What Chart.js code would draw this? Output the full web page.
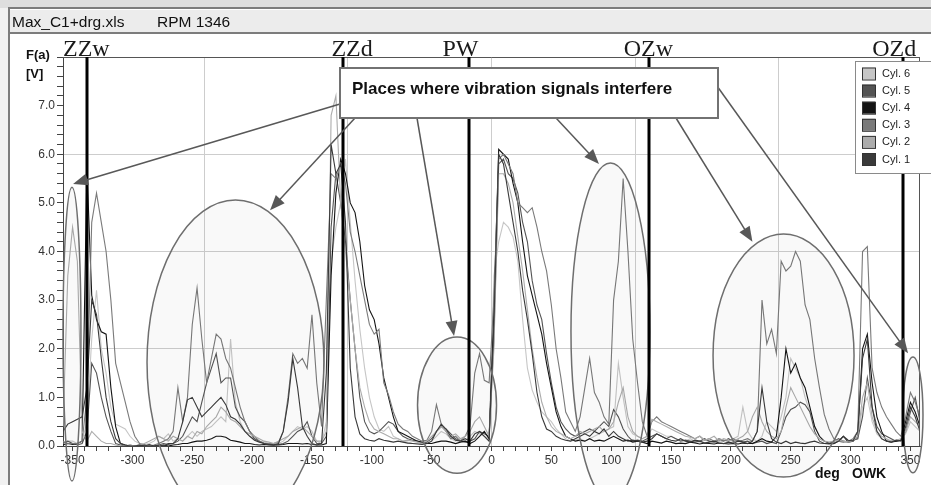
<!DOCTYPE html>
<html><head><meta charset="utf-8">
<script src="https://cdn.jsdelivr.net/npm/chart.js@4.4.1/dist/chart.umd.min.js"></script>
<style>html,body{margin:0;padding:0;background:#fff;overflow:hidden}canvas{display:block}</style>
</head><body>
<canvas id="c" width="931" height="485"></canvas>
<script>
// crank angle (deg OWK) for every sample
const angles = [
-358,-354,-350,-346,-342,-338,-334,-330,-326,-322,
-318,-314,-310,-306,-302,-298,-294,-290,-286,-282,
-278,-274,-270,-266,-262,-258,-254,-250,-246,-242,
-238,-234,-230,-226,-222,-218,-214,-210,-206,-202,
-198,-194,-190,-186,-182,-178,-174,-170,-166,-162,
-158,-154,-150,-146,-142,-138,-134,-130,-126,-122,
-118,-114,-110,-106,-102,-98,-94,-90,-86,-82,
-78,-74,-70,-66,-62,-58,-54,-50,-46,-42,
-38,-34,-30,-26,-22,-18,-14,-10,-6,-2,
2,6,10,14,18,22,26,30,34,38,
42,46,50,54,58,62,66,70,74,78,
82,86,90,94,98,102,106,110,114,118,
122,126,130,134,138,142,146,150,154,158,
162,166,170,174,178,182,186,190,194,198,
202,206,210,214,218,222,226,230,234,238,
242,246,250,254,258,262,266,270,274,278,
282,286,290,294,298,302,306,310,314,318,
322,326,330,334,338,342,346,350,354,358];

const cyl1 = [
0.3,0.45,0.5,0.55,0.6,1.2,3.0,2.7,1.8,1.0,
0.5,0.15,0.05,0.02,0,0,0.02,0,0.03,0,
0.02,0,0.05,0.05,0.15,0.5,0.95,1.0,0.8,0.6,
0.7,0.8,0.9,1.0,0.85,0.6,0.55,0.45,0.3,0.2,
0.12,0.08,0.05,0.03,0.02,0.05,0.3,0.9,1.8,1.2,
0.4,0.2,0.05,0.02,0.05,1.5,6.2,5.6,5.8,4.6,
1.6,0.6,0.25,0.15,0.12,0.1,0.15,0.12,0.1,0.08,
0.1,0.08,0.06,0.05,0.04,0.03,0.05,0.1,0.3,0.45,
0.35,0.2,0.12,0.1,0.15,0.1,0.25,0.3,0.2,0.1,
2.5,6.0,5.8,5.2,4.6,4.0,3.2,2.6,1.9,1.1,
0.6,0.35,0.3,0.2,0.15,0.12,0.1,0.15,0.2,0.25,
0.2,0.3,0.25,0.35,0.2,0.3,0.2,0.15,0.1,0.12,
0.1,0.08,0.1,0.15,0.25,0.2,0.15,0.12,0.1,0.15,
0.1,0.08,0.12,0.1,0.06,0.08,0.1,0.06,0.05,0.08,
0.06,0.1,0.08,0.05,0.1,0.3,1.2,0.5,0.15,0.08,
0.05,0.1,0.05,0.08,0.06,0.05,0.08,0.1,0.06,0.05,
0.04,0.05,0.1,0.2,0.12,0.1,0.3,1.8,2.2,0.8,
0.3,0.15,0.1,0.08,0.12,0.1,0.4,0.8,0.6,0.3];

const cyl2 = [
0.4,3.5,4.5,3.8,0.3,0.1,0.3,0.2,0.1,0.05,
0.05,0.02,0,0,0.02,0,0.03,0.05,0.1,0.15,
0.2,0.15,0.1,0.2,0.15,0.1,0.2,0.15,0.3,0.25,
0.4,0.5,0.6,0.8,0.7,0.55,0.5,0.4,0.3,0.25,
0.2,0.15,0.1,0.08,0.05,0.1,0.15,0.2,0.3,0.35,
0.4,0.3,0.2,0.1,0.1,0.3,6.8,7.2,5.0,4.0,
3.0,2.0,1.2,0.8,0.5,0.35,0.3,0.25,0.2,0.15,
0.15,0.1,0.12,0.1,0.08,0.05,0.1,0.2,0.3,0.4,
0.3,0.2,0.25,0.15,0.2,0.3,0.5,0.6,0.4,0.2,
2.0,5.6,5.6,5.4,5.0,4.3,3.6,2.8,2.0,1.4,
0.9,0.6,0.4,0.3,0.25,0.2,0.15,0.2,0.3,0.25,
0.3,0.35,0.4,0.3,0.35,0.5,0.9,1.2,0.6,0.3,
0.2,0.15,0.2,0.55,0.5,0.45,0.4,0.35,0.3,0.25,
0.2,0.18,0.15,0.2,0.12,0.15,0.2,0.1,0.15,0.12,
0.1,0.15,0.2,0.3,0.6,0.8,0.5,0.3,0.2,0.15,
0.3,0.8,1.2,1.0,0.8,0.6,0.4,0.25,0.15,0.1,
0.08,0.1,0.12,0.1,0.08,0.1,0.2,1.0,1.3,0.6,
0.3,0.2,0.15,0.1,0.12,0.15,0.3,0.6,0.5,0.4];

const cyl3 = [
0.1,0.05,0.05,0.05,0.1,1.0,4.6,5.2,4.6,4.0,
3.0,1.7,1.3,0.9,0.5,0.2,0.05,0.02,0,0.02,
0.05,0.1,0.15,0.3,1.2,0.5,1.0,2.5,3.25,2.2,
1.3,1.8,2.3,2.2,1.8,1.6,1.2,0.8,0.5,0.3,
0.2,0.1,0.05,0.05,0.05,0.08,0.3,1.0,1.9,1.7,
1.8,1.6,2.7,1.3,0.4,3.0,5.6,5.5,5.8,5.4,
4.4,4.0,3.5,3.0,2.5,2.3,2.4,1.3,1.05,0.7,
0.45,0.35,0.3,0.2,0.15,0.1,0.12,0.3,0.85,0.45,
0.3,0.15,0.2,0.1,0.2,0.4,1.5,1.9,1.35,1.3,
3.0,5.9,6.0,5.8,5.6,5.0,4.9,4.8,4.9,4.5,
4.0,3.6,2.9,2.0,1.4,0.7,0.5,0.3,0.6,1.2,
1.8,1.1,0.9,0.6,0.45,3.0,3.8,5.5,4.0,2.2,
1.3,0.5,0.2,0.5,0.6,0.5,0.45,0.4,0.35,0.3,
0.25,0.2,0.15,0.2,0.12,0.15,0.1,0.15,0.12,0.1,
0.15,0.1,0.12,0.15,0.1,0.3,3.0,2.1,2.4,1.9,
3.8,3.6,3.7,4.0,3.8,2.9,2.6,1.8,1.2,0.65,
0.35,0.15,0.1,0.08,0.1,0.15,0.3,4.0,4.1,1.6,
1.1,0.8,0.6,0.45,0.3,0.2,0.6,1.1,0.9,0.6];

const cyl4 = [
0.02,0.05,0.03,0.05,0.1,5.7,3.1,2.6,2.35,2.3,
1.2,0.4,0.05,0.02,0,0,0,0.02,0,0,
0,0.02,0,0.02,0.03,0.05,0.05,0.08,0.1,0.1,
0.12,0.15,0.2,0.2,0.18,0.12,0.1,0.08,0.05,0.05,
0.03,0.02,0.03,0.02,0.02,0.02,0.03,0.05,0.05,0.05,
0.04,0.05,0.03,0.02,0.02,0.05,3.5,5.2,5.9,5.6,
5.0,4.8,4.2,3.3,2.8,2.6,2.1,1.4,1.0,0.6,
0.3,0.25,0.2,0.15,0.1,0.08,0.05,0.05,0.08,0.1,
0.1,0.08,0.05,0.08,0.1,0.05,0.1,0.2,0.3,0.15,
2.8,6.1,6.0,5.9,5.4,5.0,4.2,3.5,3.1,2.7,
2.3,1.7,1.2,0.7,0.4,0.2,0.15,0.1,0.12,0.1,
0.15,0.1,0.12,0.1,0.15,0.2,0.15,0.1,0.12,0.08,
0.1,0.08,0.05,0.1,0.08,0.06,0.1,0.08,0.05,0.06,
0.05,0.08,0.06,0.04,0.06,0.05,0.04,0.06,0.05,0.04,
0.05,0.04,0.06,0.05,0.05,0.1,0.15,0.1,0.08,0.2,
1.0,2.0,1.5,1.7,1.4,1.2,0.8,0.4,0.2,0.1,
0.06,0.05,0.1,0.2,0.08,0.1,0.2,2.0,2.3,1.3,
0.6,0.3,0.1,0.08,0.1,0.12,0.5,0.9,0.7,0.4];

const cyl5 = [
0.05,0.1,0.05,0.02,0.05,0.3,1.7,1.5,1.0,0.6,
0.3,0.05,0.02,0,0.02,0,0.02,0,0.02,0,
0.02,0.05,0.03,0.05,0.1,0.2,0.4,0.6,0.5,0.9,
1.3,1.6,1.9,1.3,1.4,1.4,0.8,0.6,0.5,0.3,
0.15,0.1,0.05,0.03,0.02,0.03,0.05,0.1,0.2,0.3,
0.35,0.5,0.2,0.05,0.05,0.2,4.5,5.6,5.0,4.2,
3.0,2.0,1.0,0.5,0.3,0.25,0.3,0.4,0.5,0.45,
0.3,0.2,0.15,0.12,0.1,0.05,0.08,0.15,0.3,0.4,
0.35,0.25,0.15,0.1,0.08,0.1,0.15,0.3,0.25,0.2,
2.2,5.8,5.9,5.6,5.5,5.2,4.6,4.2,3.4,2.9,
2.6,1.9,1.3,0.8,0.5,0.35,0.25,0.2,0.25,0.3,
0.35,0.3,0.4,0.5,0.4,0.75,0.6,0.35,0.2,0.1,
0.12,0.1,0.15,0.2,0.25,0.2,0.15,0.2,0.15,0.1,
0.12,0.1,0.08,0.1,0.15,0.1,0.08,0.12,0.1,0.15,
0.1,0.12,0.08,0.1,0.05,0.08,0.1,0.05,0.08,0.05,
0.3,0.6,0.75,0.8,0.9,0.85,0.7,0.3,0.1,0.05,
0.05,0.1,0.15,0.1,0.08,0.12,0.15,0.6,1.4,0.8,
0.4,0.25,0.2,0.15,0.1,0.12,0.3,0.7,1.0,0.5];

const cyl6 = [
0.05,0.1,0.1,0.05,0.1,0.5,2.2,3.2,2.0,1.5,
0.8,0.45,0.4,0.35,0.2,0.1,0.05,0.03,0.05,0.1,
0.2,0.15,0.25,0.1,0.15,0.1,0.2,0.3,0.2,0.3,
0.35,0.4,0.5,0.6,0.5,2.2,0.9,0.5,0.3,0.2,
0.15,0.1,0.08,0.05,0.03,0.05,0.1,0.2,0.3,0.4,
0.35,0.4,0.3,0.1,0.05,0.5,3.8,4.5,5.0,5.9,
4.6,3.4,2.4,1.6,1.0,0.6,0.35,0.3,0.4,0.2,
0.15,0.1,0.08,0.05,0.05,0.04,0.05,0.1,0.2,0.3,
0.25,0.15,0.1,0.15,0.1,0.2,0.3,0.25,0.2,0.15,
3.5,4.2,4.6,4.5,4.3,3.8,2.6,1.6,1.15,0.9,
0.7,0.6,0.5,0.35,0.25,0.15,0.1,0.12,0.15,0.1,
0.15,0.2,0.25,0.3,0.35,0.4,1.7,1.0,0.4,0.25,
0.2,0.15,0.2,0.35,0.3,0.25,0.2,0.2,0.15,0.12,
0.1,0.15,0.1,0.08,0.12,0.1,0.08,0.1,0.12,0.1,
0.15,0.2,0.8,0.3,0.15,0.1,0.2,0.5,0.4,0.3,
0.6,1.0,1.8,1.6,1.4,1.0,0.7,0.4,0.2,0.1,
0.05,0.08,0.1,0.08,0.1,0.12,0.15,0.8,1.0,0.5,
0.25,0.15,0.1,0.12,0.1,0.12,0.25,0.5,0.4,0.3];

const seriesValues = [cyl1, cyl2, cyl3, cyl4, cyl5, cyl6];
const seriesLabels = ['Cyl. 1', 'Cyl. 2', 'Cyl. 3', 'Cyl. 4', 'Cyl. 5', 'Cyl. 6'];
const seriesColors = ['#3a3a3a', '#acacac', '#7a7a7a', '#141414', '#545454', '#c6c6c6'];

// timing markers
const markerAngles = [-338, -124, -19, 132, 344];
const markerNames = ['ZZw', 'ZZd', 'PW', 'OZw', 'OZd'];
const markerLabelAngles = [-338.5, -116.5, -26, 131, 336.5];

const titleFile = 'Max_C1+drg.xls';
const titleRpm = 'RPM 1346';
const yTitle = ['F(a)', '[V]'];
const xTitle = ['deg', 'OWK'];
const noteText = 'Places where vibration signals interfere';

const SANS = "'Liberation Sans', Arial, Helvetica, sans-serif";
const SERIF = "'Liberation Serif', 'Times New Roman', serif";

// annotation ellipses in data units: centre deg, centre V, radius deg, radius V
const noteEllipses = [
  [-350.5, 2.30, 7.5, 3.02],
  [-213.9, 1.72, 73.9, 3.34],
  [-28.8, 0.84, 33.0, 1.40],
  [99.4, 2.35, 33.0, 3.47],
  [244.0, 1.86, 58.9, 2.50],
  [352.1, 0.64, 8.4, 1.19]
];
// arrow tips in data units, start points on the note box (px)
const noteArrows = [
  [340, 104, -349.6, 5.39],
  [355, 118, -185.0, 4.85],
  [417, 118, -31.3, 2.26],
  [556, 118, 89.8, 5.80],
  [676, 118, 218.0, 4.20],
  [717, 86, 348.0, 1.91]
];

function drawArrow(ctx, x1, y1, x2, y2) {
  const a = Math.atan2(y2 - y1, x2 - x1);
  const L = 15, W = 6;
  ctx.beginPath();
  ctx.moveTo(x1, y1);
  ctx.lineTo(x2 - L * 0.8 * Math.cos(a), y2 - L * 0.8 * Math.sin(a));
  ctx.stroke();
  ctx.beginPath();
  ctx.moveTo(x2, y2);
  ctx.lineTo(x2 - L * Math.cos(a) + W * Math.sin(a), y2 - L * Math.sin(a) - W * Math.cos(a));
  ctx.lineTo(x2 - L * Math.cos(a) - W * Math.sin(a), y2 - L * Math.sin(a) + W * Math.cos(a));
  ctx.closePath();
  ctx.fill();
}

const framePlugin = {
  id: 'frame',
  beforeDraw(chart) {
    const ctx = chart.ctx;
    ctx.save();
    ctx.fillStyle = '#ffffff'; ctx.fillRect(0, 0, 931, 485);
    ctx.fillStyle = '#f1f1f1'; ctx.fillRect(0, 0, 8, 485);
    ctx.fillStyle = '#dedede'; ctx.fillRect(0, 0, 931, 8);
    ctx.fillStyle = '#ececec'; ctx.fillRect(10, 10, 921, 22);
    ctx.fillStyle = '#7c7c7c';
    ctx.fillRect(8, 7, 923, 2);
    ctx.fillRect(8, 32, 923, 2);
    ctx.fillRect(8, 7, 2, 478);
    ctx.fillStyle = '#111';
    ctx.font = '15.5px ' + SANS;
    ctx.textBaseline = 'alphabetic';
    ctx.fillText(titleFile, 12, 27);
    ctx.fillText(titleRpm, 157, 27);
    ctx.restore();
  },
  afterDraw(chart) {
    const ctx = chart.ctx, xs = chart.scales.x, ys = chart.scales.y, ca = chart.chartArea;
    ctx.save();
    // plot frame top / right
    ctx.strokeStyle = '#555'; ctx.lineWidth = 1;
    ctx.beginPath();
    ctx.moveTo(ca.left, ca.top + 0.5); ctx.lineTo(ca.right, ca.top + 0.5);
    ctx.moveTo(ca.right - 0.5, ca.top); ctx.lineTo(ca.right - 0.5, ca.bottom);
    ctx.stroke();

    // ellipses
    noteEllipses.forEach(e => {
      const cx = xs.getPixelForValue(e[0]), cy = ys.getPixelForValue(e[1]);
      const rx = Math.abs(xs.getPixelForValue(e[0] + e[2]) - cx);
      const ry = Math.abs(ys.getPixelForValue(e[1] + e[3]) - cy);
      ctx.beginPath();
      ctx.ellipse(cx, cy, rx, ry, 0, 0, Math.PI * 2);
      ctx.fillStyle = 'rgba(0,0,0,0.022)';
      ctx.fill();
      ctx.strokeStyle = '#6e6e6e'; ctx.lineWidth = 1.5;
      ctx.stroke();
    });

    // marker lines + labels
    markerAngles.forEach((a, i) => {
      const x = xs.getPixelForValue(a);
      ctx.fillStyle = '#000';
      ctx.fillRect(Math.round(x) - 1.5, ca.top, 3, ca.bottom - ca.top);
      ctx.font = '24px ' + SERIF;
      ctx.textAlign = 'center'; ctx.textBaseline = 'alphabetic';
      ctx.fillStyle = '#1a1a1a';
      ctx.fillText(markerNames[i], xs.getPixelForValue(markerLabelAngles[i]), ca.top - 1);
    });

    // arrows
    ctx.strokeStyle = '#585858'; ctx.fillStyle = '#585858'; ctx.lineWidth = 1.5;
    noteArrows.forEach(a => {
      drawArrow(ctx, a[0], a[1], xs.getPixelForValue(a[2]), ys.getPixelForValue(a[3]));
    });

    // note box
    ctx.fillStyle = '#ffffff';
    ctx.fillRect(340, 68, 378, 50);
    ctx.strokeStyle = '#727272'; ctx.lineWidth = 2;
    ctx.strokeRect(340, 68, 378, 50);
    ctx.fillStyle = '#111';
    ctx.font = 'bold 17px ' + SANS;
    ctx.textAlign = 'left'; ctx.textBaseline = 'alphabetic';
    ctx.fillText(noteText, 352, 94);

    // legend
    ctx.fillStyle = '#ffffff';
    ctx.fillRect(855, 61, 90, 112);
    ctx.strokeStyle = '#8a8a8a'; ctx.lineWidth = 1;
    ctx.strokeRect(855.5, 61.5, 90, 112);
    const ds = chart.data.datasets;
    ctx.font = '11px ' + SANS;
    ctx.textBaseline = 'middle';
    for (let k = 0; k < ds.length; k++) {
      const d = ds[ds.length - 1 - k];
      const y = 67.5 + k * 17.1;
      ctx.fillStyle = d.borderColor;
      ctx.fillRect(862, y, 13, 12);
      ctx.strokeStyle = '#333';
      ctx.strokeRect(862.5, y + 0.5, 13, 12);
      ctx.fillStyle = '#222';
      ctx.fillText(d.label, 882, y + 6.5);
    }

    // axis titles
    ctx.fillStyle = '#111';
    ctx.textBaseline = 'alphabetic';
    ctx.font = 'bold 13px ' + SANS;
    ctx.fillText(yTitle[0], 26, 59);
    ctx.fillText(yTitle[1], 26, 78);
    ctx.font = 'bold 14px ' + SANS;
    ctx.fillText(xTitle[0], 815, 478);
    ctx.fillText(xTitle[1], 852, 478);
    ctx.restore();
  }
};

const near = (v, g) => Math.abs(v - g) < 1e-6;

new Chart(document.getElementById('c'), {
  type: 'line',
  data: {
    datasets: seriesValues.map((vals, i) => ({
      label: seriesLabels[i],
      data: angles.map((a, k) => ({ x: a, y: vals[k] })),
      borderColor: seriesColors[i],
      backgroundColor: seriesColors[i],
      borderWidth: 1.1,
      pointRadius: 0,
      fill: false,
      tension: 0
    }))
  },
  options: {
    responsive: false,
    animation: false,
    devicePixelRatio: 1,
    layout: { padding: { left: 8, top: 57, right: 11, bottom: 0 } },
    plugins: { legend: { display: false }, tooltip: { enabled: false }, title: { display: false } },
    scales: {
      x: {
        type: 'linear', min: -358, max: 358,
        afterFit(s) { s.height = 39; },
        ticks: {
          stepSize: 10, autoSkip: false, maxRotation: 0, minRotation: 0, includeBounds: false,
          padding: 2, color: '#333', font: { family: SANS, size: 12 },
          callback(v) { return (Math.round(v) % 50 === 0) ? String(Math.round(v)) : ''; }
        },
        grid: {
          color(c) { return (c.tick && Math.round(c.tick.value) % 120 === 0) ? '#cdcdcd' : 'rgba(0,0,0,0)'; },
          tickColor: '#444', tickLength: 5, lineWidth: 1
        },
        border: { color: '#444', width: 1 }
      },
      y: {
        min: 0, max: 8,
        afterFit(s) { s.width = 55; },
        ticks: {
          stepSize: 0.2, autoSkip: false, includeBounds: false,
          padding: 2, color: '#333', font: { family: SANS, size: 12 },
          callback(v) { const r = Math.round(v); return (near(v, r) && r <= 7) ? r.toFixed(1) : ''; }
        },
        grid: {
          color(c) { const v = c.tick ? c.tick.value : -1; return (near(v, 2) || near(v, 4) || near(v, 6)) ? '#cdcdcd' : 'rgba(0,0,0,0)'; },
          tickColor: '#444', tickLength: 6, lineWidth: 1
        },
        border: { color: '#444', width: 1 }
      }
    }
  },
  plugins: [framePlugin]
});
</script>
</body></html>
